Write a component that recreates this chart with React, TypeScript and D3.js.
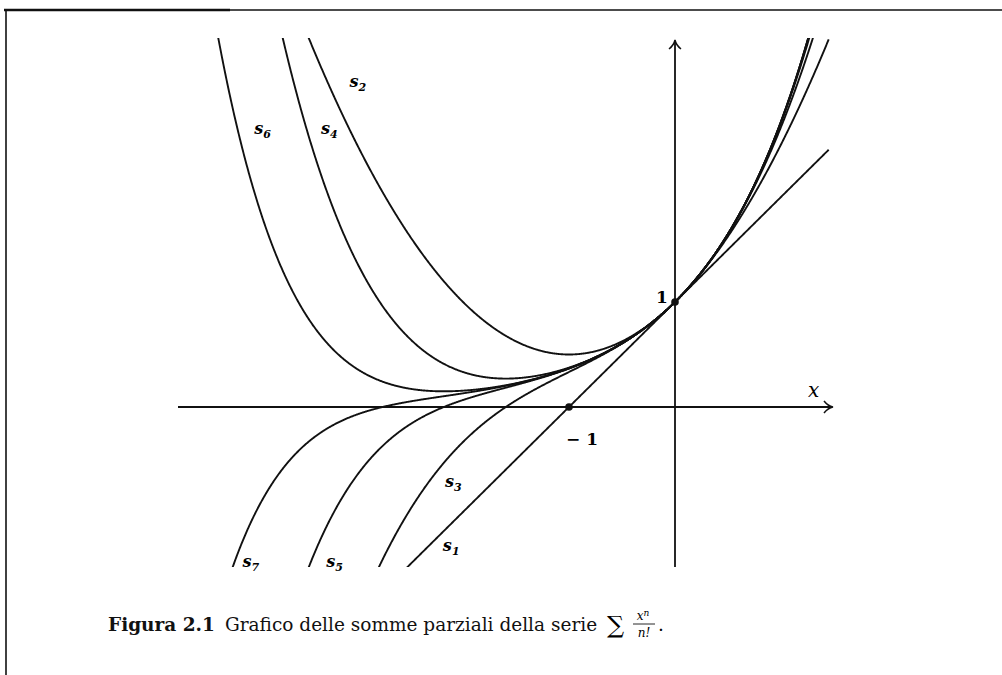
import React from "react";
import * as d3 from "d3";

// Orders of the partial sums S_n(x) = sum_{k=0}^{n} x^k / k!
const orders = [1, 2, 3, 4, 5, 6, 7];
// Label anchors per order, in data coordinates (x, y)
const labelOrders = [2, 6, 4, 3, 1, 7, 5];
const labelX = [-3.07, -3.97, -3.34, -2.17, -2.19, -4.08, -3.29];
const labelY = [3.05, 2.6, 2.6, -0.76, -1.37, -1.52, -1.52];
const xDomain = [-4.7, 1.45];
const yDomain = [-1.52, 3.5];

const W = 1002;
const H = 675;

function partialSum(n: number, x: number): number {
  let term = 1;
  let s = 1;
  for (let k = 1; k <= n; k++) {
    term *= x / k;
    s += term;
  }
  return s;
}

export default function App() {
  // Origin at (675, 407); one unit ≈ 106 px horizontally, 105 px vertically
  const x = d3.scaleLinear().domain([0, 1]).range([675, 781]);
  const y = d3.scaleLinear().domain([0, 1]).range([407, 302]);

  const clipTop = 38;
  const clipBottom = 567;

  const samples = d3.range(xDomain[0], xDomain[1] + 0.0001, 0.005);
  const line = d3
    .line<[number, number]>()
    .x((p) => x(p[0]))
    .y((p) => y(p[1]));

  const font = "'DejaVu Serif', 'Liberation Serif', serif";
  const ink = "#111";

  return (
    <svg
      width={W}
      height={H}
      style={{ position: "absolute", left: 0, top: 0, background: "#fff" }}
      fontFamily={font}
    >
      <defs>
        <clipPath id="plotClip">
          <rect x={150} y={clipTop} width={700} height={clipBottom - clipTop} />
        </clipPath>
      </defs>

      {/* page frame */}
      <line x1={4} y1={10} x2={1002} y2={10} stroke={ink} strokeWidth={1.6} />
      <line x1={4} y1={10} x2={230} y2={10} stroke={ink} strokeWidth={2.5} />
      <line x1={6} y1={10} x2={6} y2={675} stroke={ink} strokeWidth={1.6} />

      {/* axes */}
      <line x1={178} y1={y(0)} x2={832} y2={y(0)} stroke={ink} strokeWidth={1.8} />
      <path
        d={`M${824},${y(0) - 6} Q${828},${y(0) - 1} ${833},${y(0)} Q${828},${y(0) + 1} ${824},${y(0) + 6}`}
        fill="none"
        stroke={ink}
        strokeWidth={1.5}
      />
      <line x1={x(0)} y1={567} x2={x(0)} y2={41} stroke={ink} strokeWidth={1.8} />
      <path
        d={`M${x(0) - 6},${49} Q${x(0) - 1},${45} ${x(0)},${40} Q${x(0) + 1},${45} ${x(0) + 6},${49}`}
        fill="none"
        stroke={ink}
        strokeWidth={1.5}
      />

      {/* partial sums */}
      <g clipPath="url(#plotClip)">
        {orders.map((n) => {
          const pts = samples
            .map((t) => [t, partialSum(n, t)] as [number, number])
            .filter((p) => p[1] > yDomain[0] - 1 && p[1] < yDomain[1] + 1);
          return (
            <path
              key={n}
              d={line(pts) || ""}
              fill="none"
              stroke={ink}
              strokeWidth={1.9}
            />
          );
        })}
      </g>

      {/* marked points */}
      <circle cx={x(0)} cy={y(1)} r={3.8} fill={ink} />
      <circle cx={x(-1)} cy={y(0)} r={3.8} fill={ink} />

      {/* axis labels */}
      <text x={656} y={303} fontSize={17} fontWeight="bold">1</text>
      <text x={566} y={445} fontSize={17} fontWeight="bold">− 1</text>
      <text x={808} y={397} fontSize={20} fontStyle="italic">x</text>

      {/* curve labels */}
      {labelOrders.map((n, i) => (
        <text
          key={n}
          x={x(labelX[i])}
          y={y(labelY[i])}
          fontSize={16}
          fontStyle="italic"
          fontWeight="bold"
        >
          s
          <tspan fontSize={11} dy={4}>{n}</tspan>
        </text>
      ))}

      {/* caption */}
      <text x={108} y={631} fontSize={18.5} fill={ink}>
        <tspan fontWeight="bold">Figura 2.1</tspan>
        <tspan dx={10}>Grafico delle somme parziali della serie</tspan>
      </text>
      <text x={607} y={633} fontSize={24}>∑</text>
      <text x={643} y={620} fontSize={12} fontStyle="italic" textAnchor="middle">
        x<tspan fontSize={9} dy={-4}>n</tspan>
      </text>
      <line x1={633} y1={624} x2={655} y2={624} stroke={ink} strokeWidth={0.9} />
      <text x={644} y={637} fontSize={12} fontStyle="italic" textAnchor="middle">
        n!
      </text>
      <text x={658} y={631} fontSize={18.5}>.</text>
    </svg>
  );
}
